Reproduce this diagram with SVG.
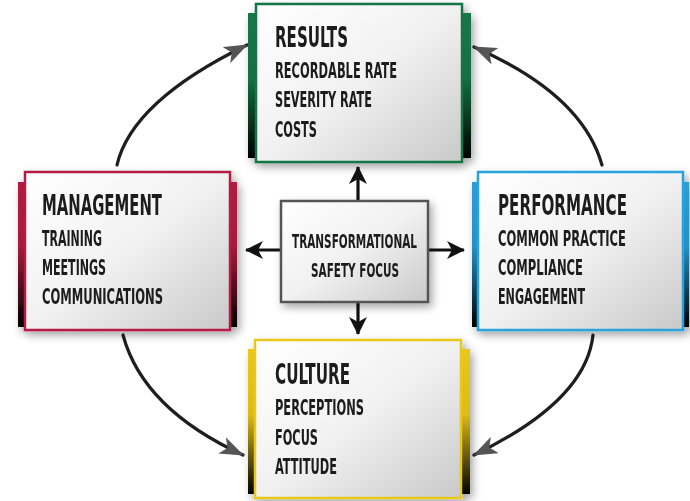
<svg xmlns="http://www.w3.org/2000/svg" width="690" height="501" viewBox="0 0 690 501">
<defs>
<style>
.t{font-family:"DejaVu Sans Condensed","DejaVu Sans",sans-serif;font-weight:bold;fill:#1c1c1c}
.h{font-size:29px}
.i{font-size:22px}
.c{font-size:20px}
.face{fill:url(#face)}
.curve{fill:none;stroke:#1e1e1e;stroke-width:3.2;stroke-linecap:round;marker-end:url(#grayHead)}
.dir{fill:none;stroke:#111;stroke-width:3.2;marker-end:url(#blackHead)}
</style>
<linearGradient id="face" x1="0" y1="0" x2="1" y2="1">
<stop offset="0" stop-color="#ffffff"/>
<stop offset="0.5" stop-color="#f1f1f1"/>
<stop offset="1" stop-color="#c9c9c9"/>
</linearGradient>
<linearGradient id="gGreen" x1="0" y1="0" x2="0" y2="1">
<stop offset="0" stop-color="#17774a"/><stop offset="0.45" stop-color="#137042"/><stop offset="1" stop-color="#000"/>
</linearGradient>
<linearGradient id="gRed" x1="0" y1="0" x2="0" y2="1">
<stop offset="0" stop-color="#b01d40"/><stop offset="0.45" stop-color="#a51a3a"/><stop offset="1" stop-color="#000"/>
</linearGradient>
<linearGradient id="gBlue" x1="0" y1="0" x2="0" y2="1">
<stop offset="0" stop-color="#2a9fd6"/><stop offset="0.45" stop-color="#2590c4"/><stop offset="1" stop-color="#000"/>
</linearGradient>
<linearGradient id="gYellow" x1="0" y1="0" x2="0" y2="1">
<stop offset="0" stop-color="#e9c81a"/><stop offset="0.45" stop-color="#dcbc16"/><stop offset="1" stop-color="#000"/>
</linearGradient>
<filter id="shadow" x="-20%" y="-20%" width="140%" height="140%">
<feDropShadow dx="3" dy="4" stdDeviation="4" flood-color="#000" flood-opacity="0.35"/>
</filter>
<marker id="grayHead" markerUnits="userSpaceOnUse" markerWidth="24" markerHeight="18" viewBox="0 0 24 18" refX="23" refY="9" orient="auto">
<path d="M0,0 L24,9 L0,18 L6,9 Z" fill="#555"/>
</marker>
<marker id="blackHead" markerUnits="userSpaceOnUse" markerWidth="18" markerHeight="18" viewBox="0 0 18 18" refX="17" refY="9" orient="auto">
<path d="M0,0 L18,9 L0,18 L5,9 Z" fill="#111"/>
</marker>
</defs>
<rect width="690" height="501" fill="#ffffff"/>

<g id="connectors">
<path class="curve" d="M117,165 Q132,101 247,45"/>
<path class="curve" d="M602,165 Q582,94 474,47"/>
<path class="curve" d="M593,335 Q586,401 474,455"/>
<path class="curve" d="M123,335 Q143,409 243,455"/>
<path class="dir" d="M358,201 L358,167"/>
<path class="dir" d="M428,250 L464,250"/>
<path class="dir" d="M281,250 L246,250"/>
<path class="dir" d="M358,302 L358,334"/>
</g>

<g id="node-results" filter="url(#shadow)">
<rect x="248" y="13" width="223" height="145" fill="url(#gGreen)"/>
<rect class="face" x="256" y="4" width="206" height="158" stroke="#137446" stroke-width="2.5"/>
<text class="t h" transform="translate(275,47) scale(0.6,1)" textLength="121.7" lengthAdjust="spacingAndGlyphs">RESULTS</text>
<text class="t i" transform="translate(275,78) scale(0.6,1)" textLength="203.3" lengthAdjust="spacingAndGlyphs">RECORDABLE RATE</text>
<text class="t i" transform="translate(275,107) scale(0.6,1)" textLength="161.7" lengthAdjust="spacingAndGlyphs">SEVERITY RATE</text>
<text class="t i" transform="translate(275,137) scale(0.6,1)" textLength="70" lengthAdjust="spacingAndGlyphs">COSTS</text>
</g>

<g id="node-management" filter="url(#shadow)">
<rect x="18" y="182" width="219" height="145" fill="url(#gRed)"/>
<rect class="face" x="25" y="172" width="205" height="158" stroke="#b41f44" stroke-width="2.5"/>
<text class="t h" transform="translate(42,215) scale(0.6,1)" textLength="200" lengthAdjust="spacingAndGlyphs">MANAGEMENT</text>
<text class="t i" transform="translate(42,246) scale(0.6,1)" textLength="100" lengthAdjust="spacingAndGlyphs">TRAINING</text>
<text class="t i" transform="translate(42,275) scale(0.6,1)" textLength="106.7" lengthAdjust="spacingAndGlyphs">MEETINGS</text>
<text class="t i" transform="translate(42,304) scale(0.6,1)" textLength="201.7" lengthAdjust="spacingAndGlyphs">COMMUNICATIONS</text>
</g>

<g id="node-performance" filter="url(#shadow)">
<rect x="472" y="182" width="217" height="145" fill="url(#gBlue)"/>
<rect class="face" x="478" y="172" width="205" height="158" stroke="#2aa3dc" stroke-width="2.5"/>
<text class="t h" transform="translate(498,215) scale(0.6,1)" textLength="215" lengthAdjust="spacingAndGlyphs">PERFORMANCE</text>
<text class="t i" transform="translate(498,246) scale(0.6,1)" textLength="213.3" lengthAdjust="spacingAndGlyphs">COMMON PRACTICE</text>
<text class="t i" transform="translate(498,275) scale(0.6,1)" textLength="141.7" lengthAdjust="spacingAndGlyphs">COMPLIANCE</text>
<text class="t i" transform="translate(498,304) scale(0.6,1)" textLength="145" lengthAdjust="spacingAndGlyphs">ENGAGEMENT</text>
</g>

<g id="node-culture" filter="url(#shadow)">
<rect x="248" y="349" width="222" height="145" fill="url(#gYellow)"/>
<rect class="face" x="255" y="340" width="206" height="158" stroke="#e8c81c" stroke-width="2.5"/>
<text class="t h" transform="translate(275,384) scale(0.6,1)" textLength="125" lengthAdjust="spacingAndGlyphs">CULTURE</text>
<text class="t i" transform="translate(275,415) scale(0.6,1)" textLength="148.3" lengthAdjust="spacingAndGlyphs">PERCEPTIONS</text>
<text class="t i" transform="translate(275,445) scale(0.6,1)" textLength="71.7" lengthAdjust="spacingAndGlyphs">FOCUS</text>
<text class="t i" transform="translate(275,474) scale(0.6,1)" textLength="103.3" lengthAdjust="spacingAndGlyphs">ATTITUDE</text>
</g>

<g id="node-center" filter="url(#shadow)">
<rect class="face" x="281" y="201" width="147" height="101" stroke="#555" stroke-width="2.5"/>
<text class="t c" transform="translate(292,248) scale(0.6,1)" textLength="208.3" lengthAdjust="spacingAndGlyphs">TRANSFORMATIONAL</text>
<text class="t c" transform="translate(311,277) scale(0.6,1)" textLength="146.7" lengthAdjust="spacingAndGlyphs">SAFETY FOCUS</text>
</g>
</svg>
